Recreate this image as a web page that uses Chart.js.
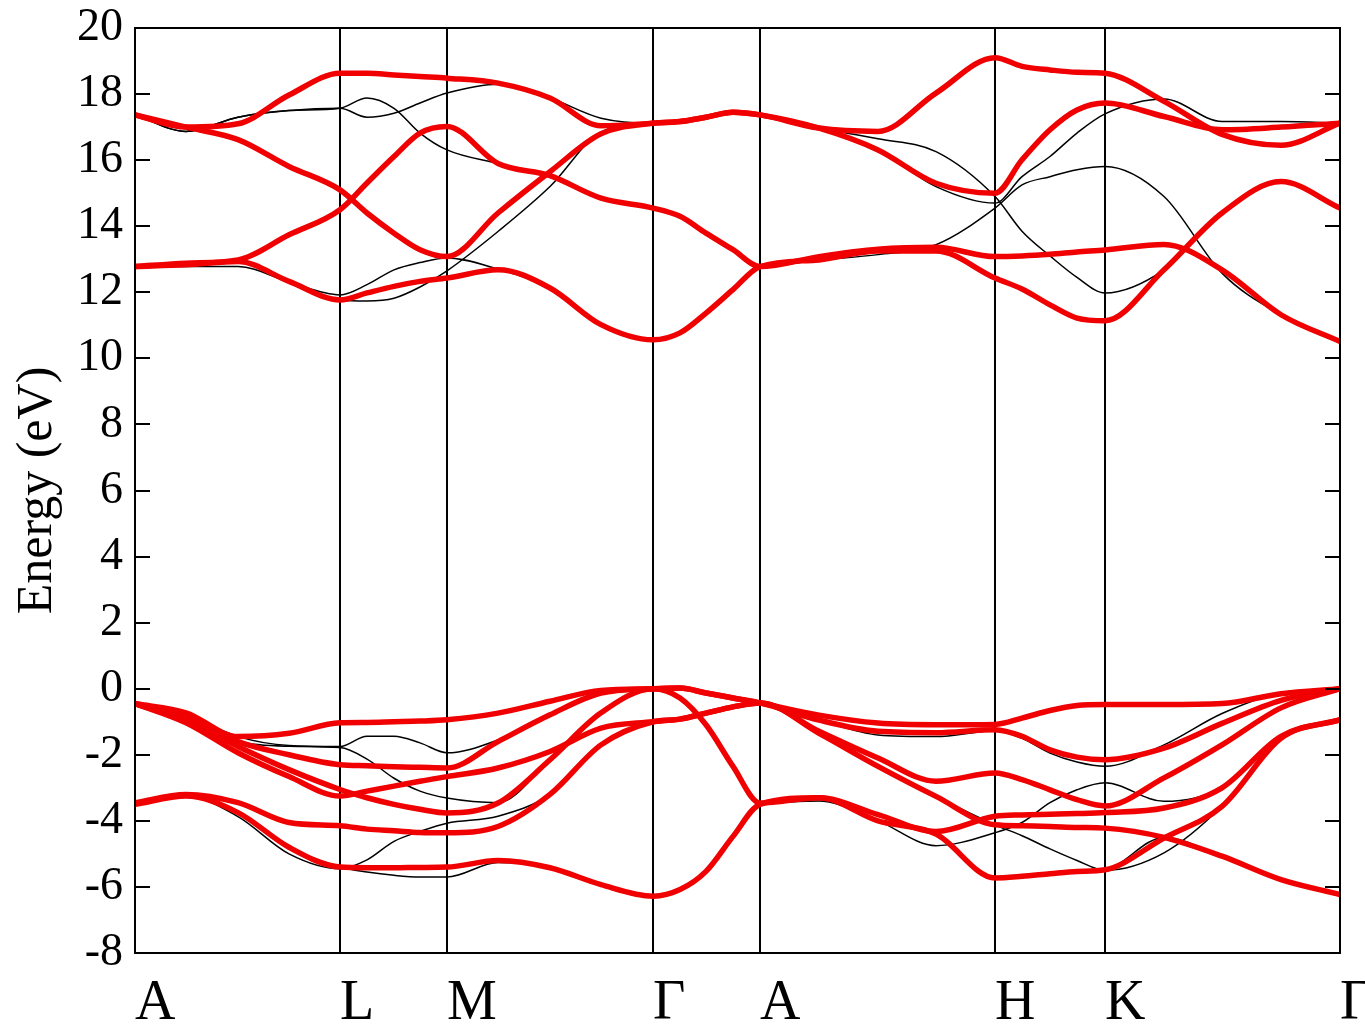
<!DOCTYPE html>
<html>
<head>
<meta charset="utf-8">
<title>Band structure</title>
<script src="https://cdn.jsdelivr.net/npm/chart.js@4.4.1/dist/chart.umd.min.js"></script>
<style>
  html, body { margin: 0; padding: 0; background: #fff; }
  canvas { display: block; }
</style>
</head>
<body>
<canvas id="bands" width="1365" height="1026"></canvas>
<script>
// k-path: high symmetry points and their labels
const kTicks = [0, 2.05, 3.12, 5.18, 6.25, 8.60, 9.70, 12.05];
const kLabels = ['A', 'L', 'M', 'Γ', 'A', 'H', 'K', 'Γ'];

// sampled k positions along the path (5 per segment, shared ends)
const kx = [0, 0.51, 1.03, 1.54, 2.05, 2.32, 2.59, 2.85, 3.12, 3.63, 4.15, 4.66, 5.18,
  5.45, 5.71, 5.98, 6.25, 6.84, 7.43, 8.01, 8.60, 8.87, 9.15, 9.42, 9.70,
  10.29, 10.87, 11.46, 12.05];

const energyTicks = [-8, -6, -4, -2, 0, 2, 4, 6, 8, 10, 12, 14, 16, 18, 20];

// red bands (valence)
const red1 = [-0.45, -0.73, -1.45, -1.35, -1.03, -1.02, -1.0, -0.98, -0.94, -0.74, -0.38, -0.05, 0,
  0.02, -0.13, -0.28, -0.43, -0.8, -1.04, -1.09, -1.08, -0.89, -0.66, -0.51, -0.48, -0.48, -0.45, -0.15, 0];
const red2 = [-0.45, -0.85, -1.6, -2.0, -2.3, -2.33, -2.36, -2.38, -2.4, -1.6, -0.79, -0.13, 0,
  0.02, -0.13, -0.28, -0.43, -0.95, -1.29, -1.33, -1.24, -1.44, -1.85, -2.07, -2.15, -1.8, -1.05, -0.35, 0];
const red3 = [-0.45, -0.95, -1.75, -2.45, -3.05, -3.3, -3.5, -3.65, -3.76, -3.46, -2.15, -0.73, 0,
  -0.28, -1.09, -2.35, -3.46, -3.3, -3.81, -4.32, -3.86, -3.82, -3.8, -3.78, -3.75, -3.61, -3.0, -1.44, -0.94];
const red4 = [-0.45, -1.03, -1.94, -2.66, -3.25, -3.1, -2.95, -2.8, -2.66, -2.4, -1.9, -1.19, -1.0,
  -0.92, -0.74, -0.55, -0.43, -1.29, -2.1, -2.8, -2.55, -2.75, -3.06, -3.36, -3.55, -2.7, -1.7, -0.58, 0];
const red5 = [-3.45, -3.2, -3.45, -4.05, -4.15, -4.25, -4.3, -4.35, -4.36, -4.17, -3.2, -1.7, -1.0,
  -0.92, -0.74, -0.55, -0.43, -1.35, -2.35, -3.26, -4.12, -4.15, -4.17, -4.2, -4.22, -4.5, -5.07, -5.78, -6.23];
const red6 = [-3.5, -3.25, -3.75, -4.8, -5.4, -5.42, -5.42, -5.41, -5.4, -5.2, -5.42, -5.93, -6.28,
  -6.08, -5.53, -4.47, -3.5, -3.3, -4.0, -4.4, -5.73, -5.68, -5.6, -5.53, -5.48, -4.52, -3.56, -1.5, -0.94];

// red bands (conduction)
const red7 = [17.37, 17.0, 17.1, 17.97, 18.63, 18.63, 18.58, 18.53, 18.48, 18.33, 17.88, 17.04, 17.12,
  17.17, 17.3, 17.45, 17.37, 16.97, 16.87, 18.03, 19.1, 18.84, 18.73, 18.66, 18.63, 17.78, 16.78, 16.45, 17.12];
const red8 = [17.37, 17.0, 16.62, 15.81, 15.1, 14.4, 13.79, 13.29, 13.08, 14.4, 15.65, 16.8, 17.12,
  17.17, 17.3, 17.45, 17.37, 16.97, 16.31, 15.3, 15.0, 16.01, 16.92, 17.52, 17.73, 17.32, 16.92, 17.0, 17.12];
const red9 = [12.78, 12.88, 12.98, 13.74, 14.5, 15.31, 16.11, 16.82, 17.02, 15.9, 15.53, 14.85, 14.55,
  14.3, 13.79, 13.29, 12.78, 13.08, 13.3, 13.36, 13.08, 13.1, 13.15, 13.22, 13.28, 13.45, 12.68, 11.32, 10.51];
const red10 = [12.78, 12.83, 12.93, 12.33, 11.77, 11.98, 12.18, 12.33, 12.43, 12.68, 12.13, 11.02, 10.56,
  10.77, 11.37, 12.08, 12.78, 12.98, 13.25, 13.25, 12.43, 12.1, 11.62, 11.22, 11.14, 12.68, 14.4, 15.35, 14.55];

// black bands (second calculation)
const black1 = [-0.45, -0.8, -1.45, -1.72, -1.75, -1.44, -1.44, -1.64, -1.94, -1.55, -0.8, -0.13, 0,
  0.02, -0.13, -0.28, -0.43, -0.95, -1.4, -1.45, -1.27, -1.5, -1.95, -2.22, -2.35, -1.7, -0.75, -0.12, 0];
const black2 = [-0.45, -0.95, -1.6, -1.74, -1.78, -2.13, -2.71, -3.1, -3.31, -3.45, -2.15, -0.73, 0,
  -0.28, -1.09, -2.35, -3.46, -3.4, -4.0, -4.75, -4.36, -4.05, -3.45, -3.06, -2.85, -3.41, -3.0, -1.44, -0.94];
const black3 = [-3.5, -3.25, -3.87, -5.0, -5.45, -5.18, -4.62, -4.32, -4.07, -3.86, -3.2, -1.7, -1.0,
  -0.92, -0.74, -0.55, -0.43, -1.35, -2.35, -3.26, -4.12, -4.45, -4.85, -5.2, -5.5, -4.97, -3.56, -1.5, -0.94];
const black4 = [-3.5, -3.25, -3.75, -4.8, -5.4, -5.55, -5.65, -5.7, -5.7, -5.26, -5.42, -5.93, -6.28,
  -6.08, -5.53, -4.47, -3.5, -3.3, -4.0, -4.4, -5.73, -5.68, -5.6, -5.53, -5.48, -4.5, -5.07, -5.78, -6.23];
const black5 = [17.37, 16.87, 17.3, 17.5, 17.57, 17.3, 17.42, 17.73, 18.03, 18.3, 17.88, 17.27, 17.12,
  17.17, 17.3, 17.45, 17.37, 16.97, 16.65, 16.26, 14.9, 13.85, 13.1, 12.45, 11.98, 12.68, 14.4, 15.35, 14.55];
const black6 = [17.37, 16.87, 17.3, 17.5, 17.57, 17.88, 17.57, 16.82, 16.31, 15.9, 15.53, 14.85, 14.55,
  14.3, 13.79, 13.29, 12.78, 12.98, 13.14, 13.44, 14.55, 15.25, 15.5, 15.71, 15.81, 14.9, 12.58, 11.32, 10.51];
const black7 = [12.78, 12.78, 12.78, 12.31, 11.92, 12.23, 12.68, 12.9, 13.04, 12.7, 12.13, 11.02, 10.56,
  10.77, 11.37, 12.08, 12.78, 13.0, 13.28, 13.36, 13.08, 13.1, 13.15, 13.22, 13.28, 13.45, 12.68, 11.32, 10.51];
const black8 = [12.78, 12.83, 12.93, 12.33, 11.77, 11.74, 11.82, 12.16, 12.65, 13.84, 15.2, 16.85, 17.12,
  17.17, 17.3, 17.45, 17.37, 16.97, 16.31, 15.2, 14.7, 15.5, 16.11, 16.82, 17.4, 17.85, 17.17, 17.17, 17.12];

const redBands = [red1, red2, red3, red4, red5, red6, red7, red8, red9, red10];
const blackBands = [black1, black2, black3, black4, black5, black6, black7, black8];

const serif = "'Liberation Serif', 'Times New Roman', serif";

function band(values, color, width, order) {
  return {
    data: kx.map((x, i) => ({ x: x, y: values[i] })),
    borderColor: color,
    borderWidth: width,
    pointRadius: 0,
    cubicInterpolationMode: 'monotone',
    fill: false,
    order: order
  };
}

// frame and inward tick marks on both sides
const frame = {
  id: 'frame',
  afterDatasetsDraw(chart) {
    const { ctx, chartArea: a, scales: { y } } = chart;
    ctx.save();
    ctx.strokeStyle = '#000';
    ctx.lineWidth = 2;
    ctx.strokeRect(a.left, a.top, a.right - a.left, a.bottom - a.top);
    ctx.beginPath();
    y.ticks.forEach(t => {
      const py = Math.round(y.getPixelForValue(t.value));
      ctx.moveTo(a.left, py); ctx.lineTo(a.left + 15, py);
      ctx.moveTo(a.right, py); ctx.lineTo(a.right - 15, py);
    });
    ctx.stroke();
    ctx.restore();
  }
};

new Chart(document.getElementById('bands'), {
  type: 'line',
  data: {
    datasets: [
      ...redBands.map(b => band(b, '#f00000', 5.5, 1)),
      ...blackBands.map(b => band(b, '#000000', 1.5, 2))
    ]
  },
  options: {
    responsive: false,
    animation: false,
    devicePixelRatio: 1,
    layout: { padding: { top: 28, right: 25, left: 0, bottom: 0 } },
    plugins: { legend: { display: false }, tooltip: { enabled: false } },
    scales: {
      x: {
        type: 'linear',
        min: 0,
        max: 12.05,
        afterBuildTicks: scale => { scale.ticks = kTicks.map(v => ({ value: v })); },
        afterFit: scale => { scale.height = 73; scale.paddingLeft = 0; scale.paddingRight = 0; },
        ticks: {
          autoSkip: false,
          maxRotation: 0,
          align: 'start',
          padding: 18,
          color: '#000',
          font: { family: serif, size: 56 },
          callback: (v, i) => kLabels[i]
        },
        grid: { color: '#000', lineWidth: 2, drawTicks: false },
        border: { display: true, color: '#000', width: 2 }
      },
      y: {
        min: -8,
        max: 20,
        afterBuildTicks: scale => { scale.ticks = energyTicks.map(v => ({ value: v })); },
        afterFit: scale => { scale.width = 135; scale.paddingTop = 0; scale.paddingBottom = 0; },
        ticks: {
          padding: 12,
          color: '#000',
          font: { family: serif, size: 46 }
        },
        grid: { display: false, drawTicks: false },
        border: { display: true, color: '#000', width: 2 },
        title: {
          display: true,
          text: 'Energy (eV)',
          color: '#000',
          font: { family: serif, size: 50 },
          padding: { top: 8, bottom: 0 }
        }
      }
    }
  },
  plugins: [frame]
});
</script>
</body>
</html>
